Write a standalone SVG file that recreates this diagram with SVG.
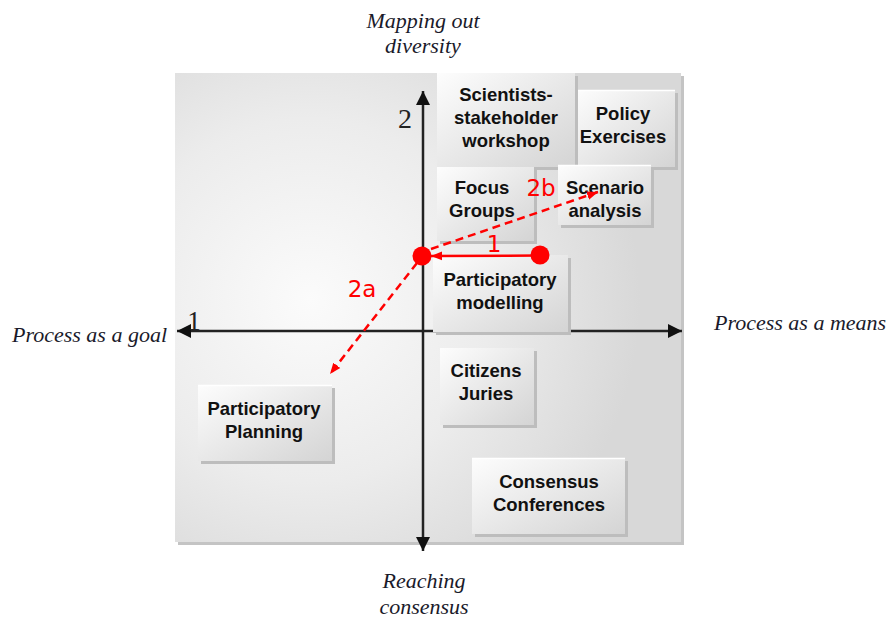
<svg xmlns="http://www.w3.org/2000/svg" width="888" height="621" viewBox="0 0 888 621">
<defs>
<radialGradient id="bg" gradientUnits="userSpaceOnUse" cx="310" cy="300" r="330">
<stop offset="0" stop-color="#fbfbfb"/>
<stop offset="0.55" stop-color="#ececec"/>
<stop offset="1" stop-color="#d8d8d8"/>
</radialGradient>
<linearGradient id="bx" x1="0" y1="0" x2="1" y2="1">
<stop offset="0" stop-color="#fdfdfd"/>
<stop offset="1" stop-color="#d4d4d4"/>
</linearGradient>
<marker id="ah" viewBox="0 0 10 10" refX="10" refY="5" markerWidth="14" markerHeight="14" markerUnits="userSpaceOnUse" orient="auto">
<path d="M0,0 L10,5 L0,10 Z" fill="#111"/>
</marker>
<marker id="rh" viewBox="0 0 10 10" refX="10" refY="5" markerWidth="11" markerHeight="11" markerUnits="userSpaceOnUse" orient="auto">
<path d="M0,1 L10,5 L0,9 Z" fill="#ff0000"/>
</marker>
<style>
.shadow{fill:#bdbdbd}
.box{fill:url(#bx)}
.hl{stroke:#ffffff;stroke-width:1.5}
.bt{font-family:"Liberation Sans",Arial,sans-serif;font-weight:bold;font-size:18.5px;fill:#111;text-anchor:middle}
.ax{font-family:"Liberation Serif","Times New Roman",serif;font-style:italic;font-size:22px;fill:#1a1a2a}
.axl{stroke:#222;stroke-width:2.5;fill:none}
.red{font-family:"DejaVu Sans","Noto Sans",sans-serif;font-size:23px;fill:#ff0000;text-anchor:middle}
.rl{stroke:#ff0000;stroke-width:2.5;fill:none}
.rd{stroke:#ff0000;stroke-width:2.5;fill:none;stroke-dasharray:8 5}
</style>
</defs>
<rect width="888" height="621" fill="#ffffff"/>
<g id="background">
<rect x="178" y="76" width="506" height="469" fill="#c4c4c4"/>
<rect x="175" y="73" width="506" height="469" fill="url(#bg)"/>
</g>
<g id="axes">
<line class="axl" x1="423" y1="331" x2="423" y2="91" marker-end="url(#ah)"/>
<line class="axl" x1="423" y1="331" x2="423" y2="551" marker-end="url(#ah)"/>
<line class="axl" x1="423" y1="331" x2="177" y2="331" marker-end="url(#ah)"/>
<line class="axl" x1="423" y1="331" x2="682" y2="331" marker-end="url(#ah)"/>
<text x="405" y="128" font-family="Liberation Serif,serif" font-size="28" fill="#222" text-anchor="middle">2</text>
<text x="194" y="330" font-family="Liberation Serif,serif" font-size="27" fill="#222" text-anchor="middle">1</text>
</g>
<g id="axis-labels">
<text class="ax" x="423" y="28" text-anchor="middle">Mapping out</text>
<text class="ax" x="423" y="53" text-anchor="middle">diversity</text>
<text class="ax" x="12" y="342">Process as a goal</text>
<text class="ax" x="714" y="330">Process as a means</text>
<text class="ax" x="424" y="588" text-anchor="middle">Reaching</text>
<text class="ax" x="424" y="614" text-anchor="middle">consensus</text>
</g>
<g id="node-policy">
<rect class="shadow" x="578" y="93" width="100" height="77"/>
<rect class="box" x="575" y="90" width="100" height="77"/>
<line class="hl" x1="575" y1="90.5" x2="675" y2="90.5"/>
<text class="bt" x="623" y="120">Policy</text>
<text class="bt" x="623" y="143">Exercises</text>
</g>
<g id="node-scientists">
<rect class="shadow" x="440" y="76" width="138" height="94"/>
<rect class="box" x="437" y="73" width="138" height="94"/>
<text class="bt" x="506" y="101">Scientists-</text>
<text class="bt" x="506" y="124">stakeholder</text>
<text class="bt" x="506" y="147">workshop</text>
</g>
<g id="node-focus">
<rect class="shadow" x="440" y="170" width="97" height="74"/>
<rect class="box" x="437" y="167" width="97" height="74"/>
<text class="bt" x="482" y="194">Focus</text>
<text class="bt" x="482" y="217">Groups</text>
</g>
<g id="node-scenario">
<rect class="shadow" x="561" y="168" width="93" height="60"/>
<rect class="box" x="558" y="165" width="93" height="60"/>
<line class="hl" x1="558" y1="165.5" x2="651" y2="165.5"/>
<text class="bt" x="605" y="194">Scenario</text>
<text class="bt" x="605" y="217">analysis</text>
</g>
<g id="node-modelling">
<rect class="shadow" x="436" y="258" width="135" height="77"/>
<rect class="box" x="433" y="255" width="135" height="77"/>
<text class="bt" x="500" y="286">Participatory</text>
<text class="bt" x="500" y="309">modelling</text>
</g>
<g id="node-citizens">
<rect class="shadow" x="443" y="351" width="94" height="77"/>
<rect class="box" x="440" y="348" width="94" height="77"/>
<text class="bt" x="486" y="377">Citizens</text>
<text class="bt" x="486" y="400">Juries</text>
</g>
<g id="node-planning">
<rect class="shadow" x="201" y="388" width="134" height="76"/>
<rect class="box" x="198" y="385" width="134" height="76"/>
<line class="hl" x1="198" y1="385.5" x2="332" y2="385.5"/>
<text class="bt" x="264" y="415">Participatory</text>
<text class="bt" x="264" y="438">Planning</text>
</g>
<g id="node-consensus">
<rect class="shadow" x="475" y="461" width="153" height="76"/>
<rect class="box" x="472" y="458" width="153" height="76"/>
<line class="hl" x1="472" y1="458.5" x2="625" y2="458.5"/>
<text class="bt" x="549" y="488">Consensus</text>
<text class="bt" x="549" y="511">Conferences</text>
</g>
<g id="connectors">
<line class="rl" x1="540" y1="255.5" x2="431" y2="256" marker-end="url(#rh)"/>
<path class="rd" d="M431,249 L598,192" marker-end="url(#rh)"/>
<path class="rd" d="M417,263 L330,374" marker-end="url(#rh)"/>
<circle cx="422" cy="256" r="9.5" fill="#ff0000"/>
<circle cx="540" cy="255" r="9.5" fill="#ff0000"/>
<text class="red" x="494" y="252">1</text>
<text class="red" x="541" y="196">2b</text>
<text class="red" x="362" y="297">2a</text>
</g>
</svg>
